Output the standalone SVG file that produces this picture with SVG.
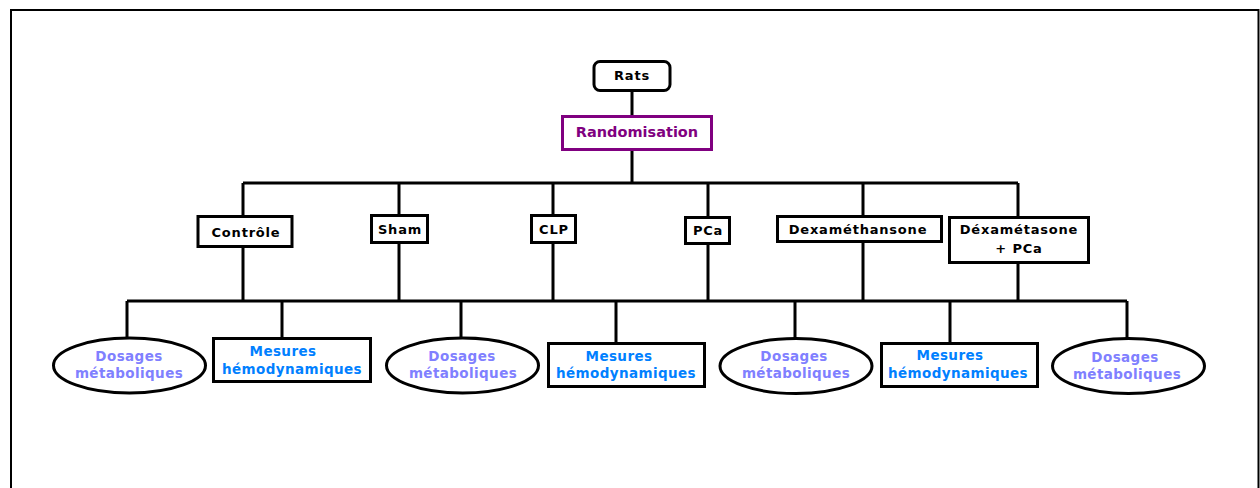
<svg xmlns="http://www.w3.org/2000/svg" width="1260" height="488" viewBox="0 0 1260 488">
<style>
text{font-family:"DejaVu Sans","Verdana",sans-serif;font-weight:bold;text-anchor:middle}
.b{fill:#fff;stroke:#000;stroke-width:3}
.t{font-size:13px;fill:#000;letter-spacing:0.8px}
.dm{font-size:13.5px;fill:#8080FF;letter-spacing:0.4px}
.mh{font-size:13.5px;fill:#0080FF;letter-spacing:0.4px}
.c{stroke:#000;stroke-width:3;fill:none}
</style>
<rect width="1260" height="488" fill="#fff"/>
<path d="M11 500 V10 H1258.5 V500" fill="none" stroke="#000" stroke-width="2"/>
<g id="connectors" class="c">
<path d="M632 91 V116 M632 150 V183 M243 183 H1018 M243 183 V216 M399 183 V215 M553 183 V215 M708 183 V217 M863 183 V216 M1018 183 V217"/>
<path d="M243 247 V301 M399 243 V301 M553 243 V301 M708 244 V301 M863 242 V301 M1018 263 V301 M127 301 H1127"/>
<path d="M127 301 V338 M282 301 V338 M461 301 V338 M616 301 V343 M795 301 V338 M950 301 V343 M1127 301 V338"/>
</g>
<g id="rats"><rect class="b" x="594" y="61.5" width="76" height="29" rx="6"/><text class="t" x="632" y="80" font-size="15">Rats</text></g>
<g id="randomisation"><rect x="562.5" y="116.5" width="149" height="33" fill="#fff" stroke="#800080" stroke-width="3"/><text x="637" y="137" font-size="14.5" fill="#800080">Randomisation</text></g>
<g id="controle"><rect class="b" x="198" y="216.5" width="94" height="30"/><text class="t" x="246" y="237">Contrôle</text></g>
<g id="sham"><rect class="b" x="371.5" y="215.5" width="56" height="27"/><text class="t" x="400" y="234">Sham</text></g>
<g id="clp"><rect class="b" x="531.5" y="215.5" width="44" height="27"/><text class="t" x="554" y="234">CLP</text></g>
<g id="pca"><rect class="b" x="685.5" y="217.5" width="44" height="26"/><text class="t" x="708" y="235">PCa</text></g>
<g id="dexamethansone"><rect class="b" x="777.5" y="216.5" width="164" height="25"/><text class="t" x="858" y="234">Dexaméthansone</text></g>
<g id="dexametasone-pca"><rect class="b" x="949.5" y="217.5" width="139" height="45"/><text class="t" x="1019" y="234">Déxamétasone</text><text class="t" x="1019" y="253">+ PCa</text></g>
<g id="dosages1"><ellipse class="b" cx="129.5" cy="365.5" rx="76" ry="27.5"/><text class="dm" x="129" y="361">Dosages</text><text class="dm" x="129" y="378">métaboliques</text></g>
<g id="mesures1"><rect class="b" x="213.5" y="338.5" width="157" height="43"/><text class="mh" x="283" y="356">Mesures</text><text class="mh" x="292" y="374">hémodynamiques</text></g>
<g id="dosages2"><ellipse class="b" cx="462.5" cy="365.5" rx="76" ry="27.5"/><text class="dm" x="462" y="361">Dosages</text><text class="dm" x="463" y="378">métaboliques</text></g>
<g id="mesures2"><rect class="b" x="548.5" y="343.5" width="156" height="43"/><text class="mh" x="619" y="361">Mesures</text><text class="mh" x="626" y="378">hémodynamiques</text></g>
<g id="dosages3"><ellipse class="b" cx="796" cy="366" rx="76" ry="27.5"/><text class="dm" x="794" y="361">Dosages</text><text class="dm" x="796" y="378">métaboliques</text></g>
<g id="mesures3"><rect class="b" x="881.5" y="343.5" width="156" height="43"/><text class="mh" x="950" y="360">Mesures</text><text class="mh" x="958" y="378">hémodynamiques</text></g>
<g id="dosages4"><ellipse class="b" cx="1128.5" cy="366" rx="76" ry="27.5"/><text class="dm" x="1125" y="362">Dosages</text><text class="dm" x="1127" y="379">métaboliques</text></g>
</svg>
